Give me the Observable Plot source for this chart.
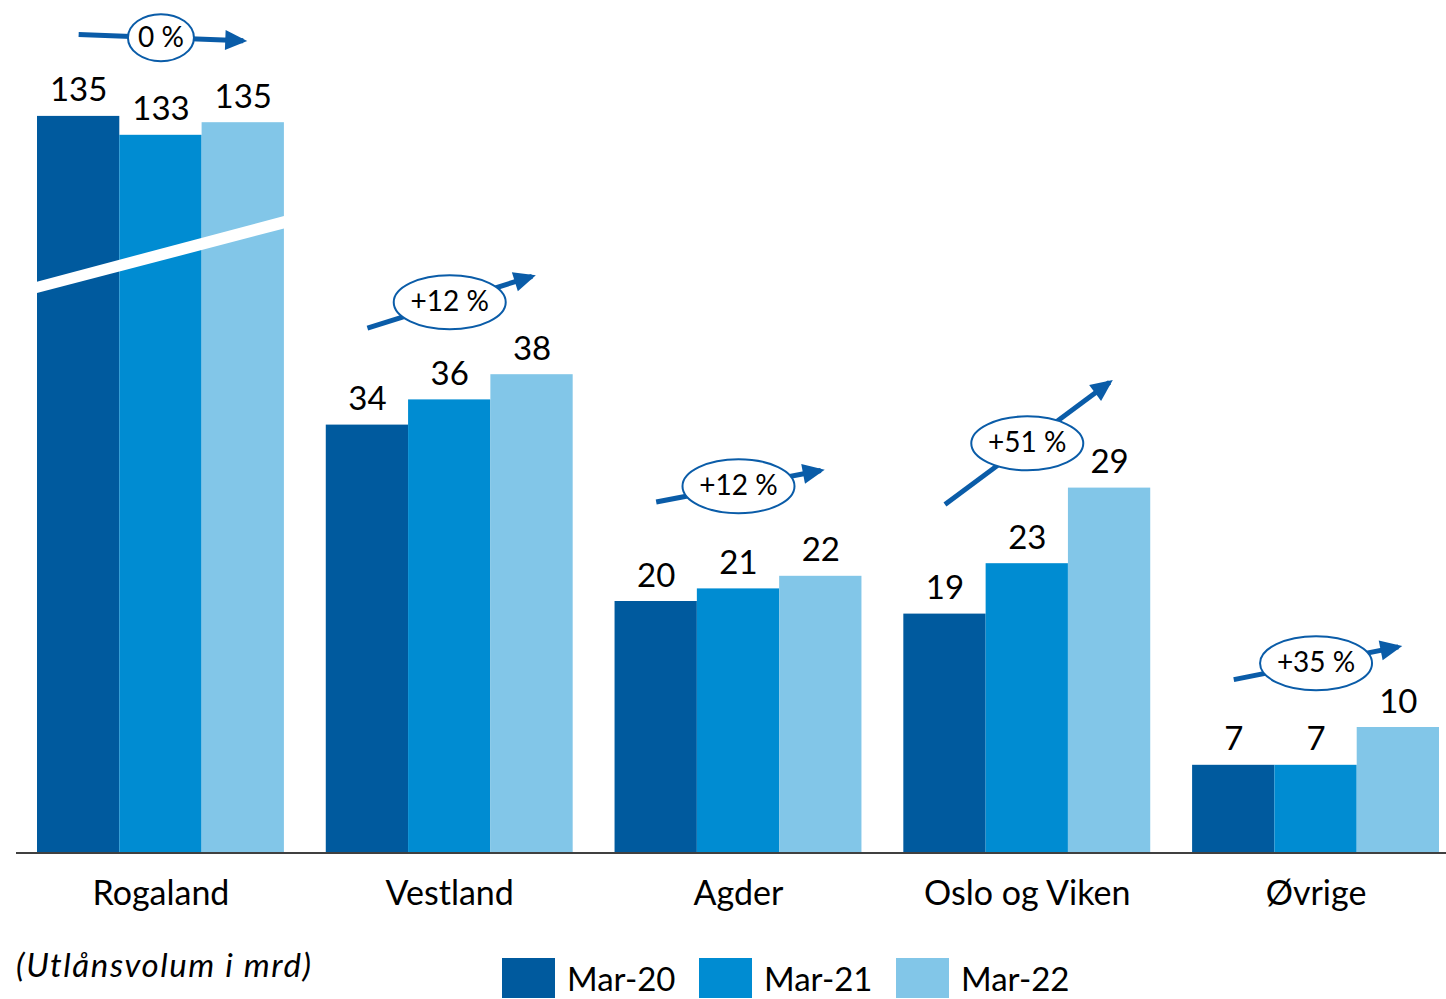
<!DOCTYPE html>
<html>
<head>
<meta charset="utf-8">
<script src="https://cdn.jsdelivr.net/npm/d3@7"></script>
<script src="https://cdn.jsdelivr.net/npm/@observablehq/plot@0.6"></script>
<style>
  body { margin: 0; background: #fff; font-family: Lato, "Noto Sans", sans-serif; }
  #wrap { position: relative; width: 1446px; height: 999px; overflow: hidden; background: #fff; }
  #chart svg { display: block; }
  #caption { position: absolute; left: 16px; top: 944px; font-style: italic; font-size: 33px; letter-spacing: 1.6px; color: #000; line-height: 40px; }
  #legend { position: absolute; left: 502px; top: 958px; display: flex; }
  .item { display: flex; align-items: center; width: 197px; }
  .sw { width: 53px; height: 40px; margin-right: 12px; flex: none; }
  .item span { font-size: 33px; color: #000; line-height: 40px; }
</style>
</head>
<body>
<div id="wrap">
  <div id="chart"></div>
  <div id="caption">(Utlånsvolum i mrd)</div>
  <div id="legend"></div>
</div>
<script>
// ---- data ----
const regions = ["Rogaland", "Vestland", "Agder", "Oslo og Viken", "Øvrige"];
const periods = ["Mar-20", "Mar-21", "Mar-22"];
const mar20 = [135, 34, 20, 19, 7];
const mar21 = [133, 36, 21, 23, 7];
const mar22 = [135, 38, 22, 29, 10];
// Rogaland bars are drawn on a broken axis: heights as shown in the picture
const rogalandShown = [58.5, 57, 58];
const growthLabels = ["0 %", "+12 %", "+12 %", "+51 %", "+35 %"];
// growth arrows: level (axis units) at first and last bar of each group
const arrowFrom = [65.0, 41.7, 27.9, 27.7, 13.8];
const arrowTo = [64.5, 45.8, 30.4, 37.4, 16.4];
const colors = ["#005A9E", "#008CD2", "#82C6E8"];
const arrowColor = "#0A5CA8";

// ---- tables ----
const series = [mar20, mar21, mar22];
const rows = [];
regions.forEach((r, i) => {
  periods.forEach((p, j) => {
    const value = series[j][i];
    rows.push({region: r, period: p, value, shown: i === 0 ? rogalandShown[j] : value});
  });
});
const growth = regions.map((r, i) => ({
  region: r, from: arrowFrom[i], to: arrowTo[i], mid: (arrowFrom[i] + arrowTo[i]) / 2, label: growthLabels[i]
}));

function ellipseSymbol(rx, ry) {
  const k = 0.5523;
  return {
    draw(c) {
      c.moveTo(rx, 0);
      c.bezierCurveTo(rx, ry * k, rx * k, ry, 0, ry);
      c.bezierCurveTo(-rx * k, ry, -rx, ry * k, -rx, 0);
      c.bezierCurveTo(-rx, -ry * k, -rx * k, -ry, 0, -ry);
      c.bezierCurveTo(rx * k, -ry, rx, -ry * k, rx, 0);
      c.closePath();
    }
  };
}

const arrowHead = (color) => {
  const m = d3.create("svg:marker")
    .attr("viewBox", "-18 -10 22 20")
    .attr("markerWidth", 4.4)
    .attr("markerHeight", 4.0)
    .attr("refX", 0).attr("refY", 0)
    .attr("orient", "auto")
    .attr("overflow", "visible");
  m.append("path").attr("d", "M-18,-10L4,0L-18,10Z").attr("fill", color).attr("stroke", "none");
  return m.node();
};

const H = 930, MB = 77, pxPerUnit = 12.6;
const yMax = (H - MB) / pxPerUnit;

const plot = Plot.plot({
  width: 1446,
  height: H,
  marginTop: 0,
  marginBottom: MB,
  marginLeft: 37,
  marginRight: 7,
  style: {fontFamily: "Lato, 'Noto Sans', sans-serif", background: "white", overflow: "visible", color: "black"},
  fx: {domain: regions, paddingInner: 0.145, paddingOuter: 0, round: false, label: null},
  x: {domain: periods, padding: 0, round: false, axis: null},
  y: {domain: [0, yMax], axis: null},
  color: {domain: periods, range: colors},
  marks: [
    Plot.barY(rows, {fx: "region", x: "period", y: "shown", fill: "period", inset: 0}),
    Plot.text(rows, {fx: "region", x: "period", y: "shown", text: d => String(d.value),
      lineAnchor: "bottom", dy: -15, fontSize: 33, fill: "black"}),
    Plot.link(growth, {fx: "region", x1: () => periods[0], x2: () => periods[2], y1: "from", y2: "to",
      stroke: arrowColor, strokeWidth: 5, markerEnd: arrowHead}),
    Plot.dot(growth.filter(d => d.label.length <= 3), {fx: "region", x: () => periods[1], y: "mid",
      symbol: ellipseSymbol(33, 23.5), fill: "white", stroke: arrowColor, strokeWidth: 2}),
    Plot.dot(growth.filter(d => d.label.length > 3), {fx: "region", x: () => periods[1], y: "mid",
      symbol: ellipseSymbol(56, 27), fill: "white", stroke: arrowColor, strokeWidth: 2}),
    Plot.text(growth, {fx: "region", x: () => periods[1], y: "mid", text: "label", fontSize: 28, fill: "black"}),
    Plot.axisFx({anchor: "bottom", tickSize: 0, tickPadding: 27, fontSize: 34, label: null})
  ]
});

// axis break stripe & baseline, positioned through the plot's scales
const fxS = plot.scale("fx");
const yS = plot.scale("y");
const svg = d3.select(plot);
const x0 = fxS.apply ? fxS.apply("Rogaland") : fxS.range[0];
const x1 = x0 + fxS.bandwidth;
const yv = v => yS.apply(v);
svg.append("polygon")
  .attr("points", [[x0 - 2, yv(45.3)], [x1 + 2, yv(50.6)], [x1 + 2, yv(49.6)], [x0 - 2, yv(44.4)]].map(p => p.join(",")).join(" "))
  .attr("fill", "white");
svg.append("line")
  .attr("x1", 16).attr("x2", 1446)
  .attr("y1", yv(0)).attr("y2", yv(0))
  .attr("stroke", "#404040").attr("stroke-width", 2);

document.getElementById("chart").append(plot);

// legend
const legend = d3.select("#legend");
periods.forEach((p, j) => {
  const it = legend.append("div").attr("class", "item");
  it.append("div").attr("class", "sw").style("background", colors[j]);
  it.append("span").text(p);
});
</script>
</body>
</html>
